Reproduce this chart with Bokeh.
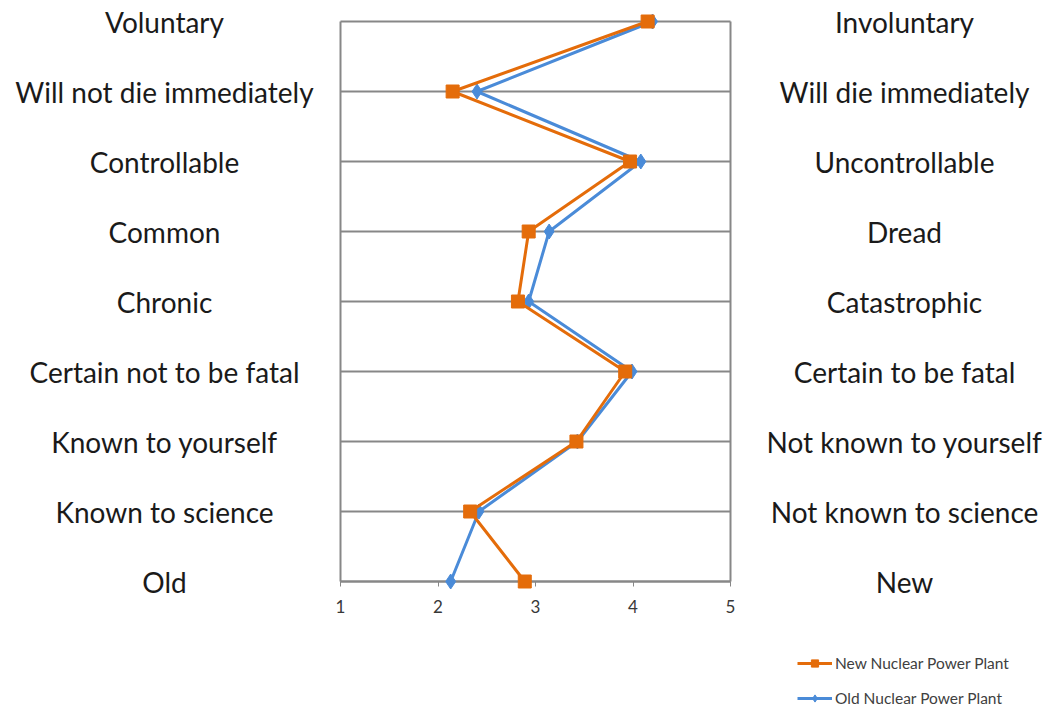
from bokeh.plotting import figure
from bokeh.models import (Range1d, FixedTicker, ColumnDataSource, Legend, LegendItem,
                          LinearAxis)
from bokeh.core.properties import value
from bokeh.embed import file_html
from bokeh.resources import INLINE

left_labels = ["Voluntary", "Will not die immediately", "Controllable", "Common",
               "Chronic", "Certain not to be fatal", "Known to yourself",
               "Known to science", "Old"]
right_labels = ["Involuntary", "Will die immediately", "Uncontrollable", "Dread",
                "Catastrophic", "Certain to be fatal", "Not known to yourself",
                "Not known to science", "New"]
new_plant = [4.15, 2.15, 3.97, 2.93, 2.82, 3.92, 3.42, 2.33, 2.89]
old_plant = [4.20, 2.40, 4.08, 3.14, 2.93, 3.99, 3.43, 2.42, 2.13]
x_ticks = [1, 2, 3, 4, 5]

n = len(left_labels)
rows = [n - 1 - i for i in range(n)]

ORANGE = "#E46C0A"
BLUE = "#4A8BD8"
GRID = "#878787"
FONT = "Lato"
LABEL_SIZE = "28px"
TEXT_COLOR = "#1a1a1a"

# ---- layout (pixels) ----
W, H = 1050, 706
PLOT_L, PLOT_R = 340, 730     # pixel positions of the value axis ends
PLOT_T, PLOT_B = 21, 581      # pixel positions of first / last rows
ROW_PX = (PLOT_B - PLOT_T) / (n - 1)
UNIT_PX = (PLOT_R - PLOT_L) / (x_ticks[-1] - x_ticks[0])
LEFT_CX, RIGHT_CX = 164, 904  # centres of the label columns
LEG_X, LEG_TOP = 797, 654

y_top = (n - 1) + PLOT_T / ROW_PX
y_range = Range1d(y_top - H / ROW_PX, y_top)
val_start = x_ticks[0] - PLOT_L / UNIT_PX
val_range = Range1d(val_start, val_start + W / UNIT_PX)

p = figure(frame_width=W, frame_height=H, output_backend="svg",
           toolbar_location=None, x_range=Range1d(0, W), y_range=y_range,
           x_axis_location=None, y_axis_location=None, min_border=0,
           min_border_left=0, min_border_right=0, min_border_top=0,
           min_border_bottom=0,
           background_fill_color="white", border_fill_color="white")
p.outline_line_color = None
p.grid.visible = False
p.extra_x_ranges = {"val": val_range}

src = ColumnDataSource(dict(y=rows, new=new_plant, old=old_plant,
                            left=left_labels, right=right_labels))

# grid: horizontal line at every row, border lines at both value-axis ends
p.segment(x0=x_ticks[0], x1=x_ticks[-1], y0="y", y1="y", source=src,
          x_range_name="val", line_color=GRID, line_width=2)
p.segment(x0=[x_ticks[0], x_ticks[-1]], x1=[x_ticks[0], x_ticks[-1]],
          y0=min(rows), y1=max(rows), x_range_name="val",
          line_color=GRID, line_width=2)

ax = LinearAxis(x_range_name="val", ticker=FixedTicker(ticks=x_ticks),
                fixed_location=min(rows), bounds=(x_ticks[0], x_ticks[-1]))
ax.axis_line_color = GRID
ax.axis_line_width = 2
ax.major_tick_line_color = GRID
ax.major_tick_line_width = 1
ax.major_tick_out = 5
ax.major_tick_in = 0
ax.minor_tick_line_color = None
ax.major_label_text_font = FONT
ax.major_label_text_font_size = "17px"
ax.major_label_text_color = "#383838"
ax.major_label_standoff = 13
ax.level = "underlay"
p.add_layout(ax, "below")

p.line("old", "y", source=src, x_range_name="val", line_color=BLUE, line_width=3)
p.scatter("old", "y", source=src, x_range_name="val", marker="diamond", size=15,
          fill_color=BLUE, line_color=BLUE)
p.line("new", "y", source=src, x_range_name="val", line_color=ORANGE, line_width=3)
p.scatter("new", "y", source=src, x_range_name="val", marker="square", size=13,
          fill_color=ORANGE, line_color=ORANGE)

p.text(x=LEFT_CX, y="y", text="left", source=src, text_align="center",
       text_baseline="middle", text_font=value(FONT), text_font_size=LABEL_SIZE,
       text_color=TEXT_COLOR)
p.text(x=RIGHT_CX, y="y", text="right", source=src, text_align="center",
       text_baseline="middle", text_font=value(FONT), text_font_size=LABEL_SIZE,
       text_color=TEXT_COLOR)

# legend swatches (no visible data points)
nan = float("nan")
e_ol = p.line(x=[nan], y=[nan], line_color=ORANGE, line_width=3)
e_os = p.scatter(x=[nan], y=[nan], marker="square", size=9, fill_color=ORANGE, line_color=ORANGE)
e_bl = p.line(x=[nan], y=[nan], line_color=BLUE, line_width=3)
e_bs = p.scatter(x=[nan], y=[nan], marker="diamond", size=10, fill_color=BLUE, line_color=BLUE)

GLYPH_H, SPACING = 18, 17
leg_h = 2 * GLYPH_H + SPACING
legend = Legend(items=[LegendItem(label="New Nuclear Power Plant", renderers=[e_ol, e_os]),
                       LegendItem(label="Old Nuclear Power Plant", renderers=[e_bl, e_bs])],
                location=(LEG_X, H - LEG_TOP - leg_h), orientation="vertical",
                glyph_width=35, glyph_height=GLYPH_H, label_height=GLYPH_H,
                label_standoff=3, spacing=SPACING, padding=0, margin=0,
                border_line_color=None, background_fill_alpha=0,
                label_text_font=FONT, label_text_font_size="15.5px",
                label_text_color="#404040")
p.add_layout(legend, "center")

open("out.html", "w").write(file_html(p, INLINE))
